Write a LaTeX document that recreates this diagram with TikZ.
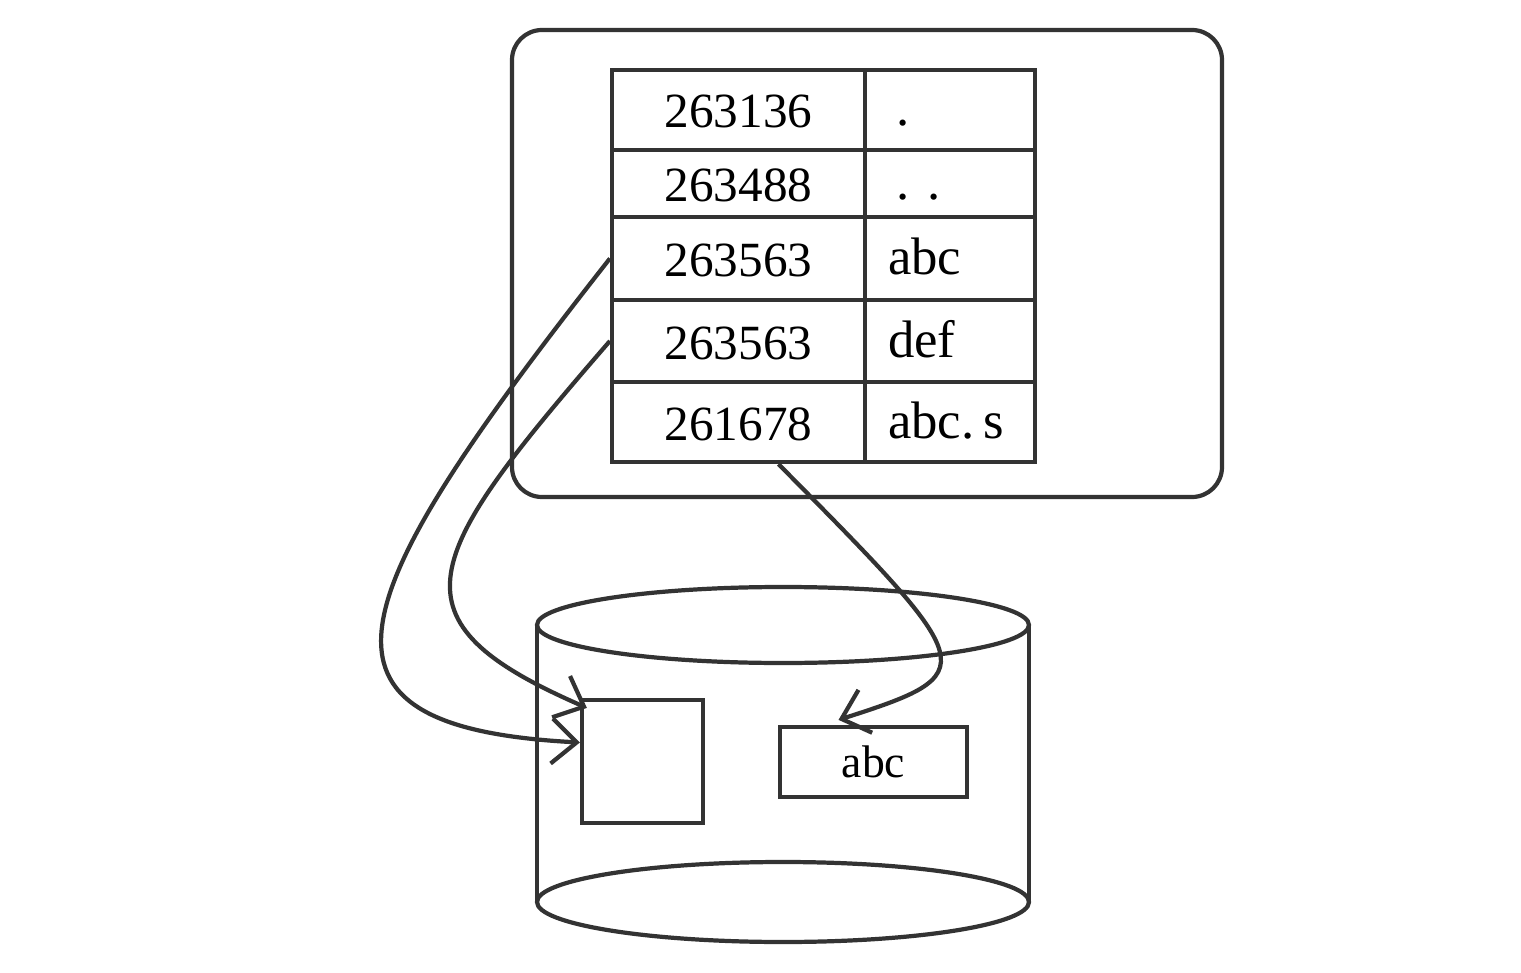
\documentclass[tikz,border=0pt]{standalone}
\usepackage{fontspec}
\setmainfont{Liberation Serif}
\usetikzlibrary{arrows.meta}
\begin{document}
\begin{tikzpicture}[line width=1.2pt,draw=black!80,
    num/.style={draw,minimum width=2.53cm,inner sep=0pt,text height=0.38cm,text depth=0.02cm,font=\fontsize{14}{16}\selectfont},
    nam/.style={draw,text width=1.24cm,inner xsep=0.23cm,inner ysep=0pt,text height=0.36cm,text depth=0.04cm,align=left,font=\fontsize{15}{17}\selectfont},
    lnk/.style={-{Straight Barb[length=2.5mm,width=4.5mm]}}]
  \useasboundingbox (0,0) rectangle (15.21,9.72);
  \node[draw,rounded corners=0.3cm,minimum width=7.1cm,minimum height=4.67cm](dir) at (8.67,7.085) {};
  \node[num,minimum height=0.80cm](n1) at (7.385,8.62)  {263136};
  \node[num,minimum height=0.67cm](n2) at (7.385,7.885) {263488};
  \node[num,minimum height=0.83cm](n3) at (7.385,7.135) {263563};
  \node[num,minimum height=0.82cm](n4) at (7.385,6.31)  {263563};
  \node[num,minimum height=0.80cm](n5) at (7.385,5.50)  {261678};
  \node[nam,minimum height=0.80cm](f1) at (9.50,8.62)  {\,.};
  \node[nam,minimum height=0.67cm](f2) at (9.50,7.885) {\,.\,\,.};
  \node[nam,minimum height=0.83cm](f3) at (9.50,7.135) {abc};
  \node[nam,minimum height=0.82cm](f4) at (9.50,6.31)  {def};
  \node[nam,minimum height=0.80cm](f5) at (9.50,5.50)  {abc.\,s};
  \draw (7.83,3.47) ellipse (2.46 and 0.38);
  \draw (7.83,0.70) ellipse (2.46 and 0.40);
  \draw (5.37,3.47) -- (5.37,0.70) (10.29,3.47) -- (10.29,0.70);
  \node[draw,minimum width=1.21cm,minimum height=1.23cm](blk) at (6.425,2.105) {};
  \node[draw,minimum width=1.87cm,minimum height=0.70cm,font=\fontsize{13}{15}\selectfont](dat) at (8.735,2.10) {abc};
  \draw[lnk] (n3.west) .. controls (3.40,3.70) and (2.85,2.45) .. ([yshift=0.19cm]blk.west);
  \draw[lnk] (n4.west) .. controls (4.20,4.12) and (3.85,3.52) .. ([xshift=0.07cm,yshift=-0.1cm]blk.north west);
  \draw[lnk] ([xshift=0.4cm]n5.south) .. controls (9.80,3.04) and (9.85,2.99) .. ([xshift=-0.35cm,yshift=0.05cm]dat.north);
\end{tikzpicture}
\end{document}
